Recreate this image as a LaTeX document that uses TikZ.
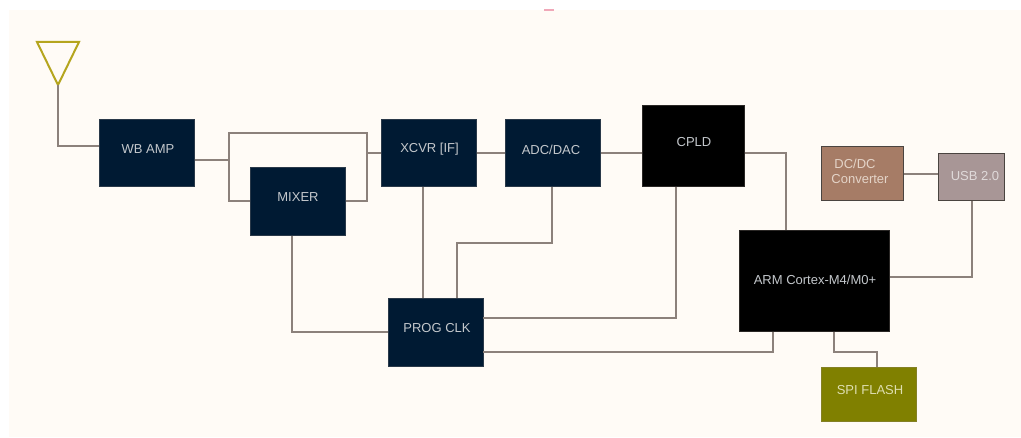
\documentclass[tikz,border=0pt]{standalone}
\usepackage{fontspec}
\setmainfont{Liberation Sans}
\definecolor{bgcream}{HTML}{FFFBF6}
\definecolor{navybox}{HTML}{001A33}
\definecolor{wirecol}{HTML}{8C817B}
\definecolor{olivecol}{HTML}{808000}
\definecolor{antcol}{HTML}{B5A51E}
\definecolor{dccol}{HTML}{A67C66}
\definecolor{usbcol}{HTML}{A89696}
\definecolor{txtcol}{HTML}{C4C8CC}
\definecolor{speck}{HTML}{F0A8B8}
\definecolor{dctext}{HTML}{E4D4C8}
\definecolor{usbtext}{HTML}{E0DADA}
\definecolor{spitext}{HTML}{DEDEB0}
\definecolor{edgedark}{HTML}{4A4440}
\tikzset{
  x=1pt,y=-1pt,
  blockbox/.style={draw=#1!70!wirecol,fill=#1,line width=0.8pt,inner sep=0pt,outer sep=0pt},
  blocktext/.style={text=txtcol,font=\fontsize{13}{15}\selectfont},
  wire/.style={draw=wirecol,line width=2pt,line join=miter},
}
\newcommand{\blk}[6]{% name, x1,y1,x2,y2, colour
  \node[blockbox=#6,minimum width=#4pt-#2pt-0.8pt,minimum height=#5pt-#3pt-0.8pt,anchor=north west] (#1) at (#2+0.4,#3+0.4) {};}
\begin{document}
\begin{tikzpicture}
\useasboundingbox (0,0) rectangle (1021,438);
\fill[white] (0,0) rectangle (1021,438);
\fill[bgcream] (9,10) rectangle (1021,437);
\fill[speck] (544,9.5) rectangle (554,11);
% antenna
\coordinate (anta) at (37,42);
\coordinate (antb) at (79,42);
\coordinate (antc) at (58,85);
\draw[antcol,line width=2pt,line join=miter] (anta) -- (antb) -- (antc) -- cycle;
% blocks
\blk{wb}{98.5}{119}{195}{187}{navybox}
\blk{mix}{250}{167}{346}{236}{navybox}
\blk{xcvr}{381}{119}{477}{187}{navybox}
\blk{adc}{505}{119}{601}{187}{navybox}
\blk{cpld}{642}{105}{745}{187}{black}
\tikzset{blockbox/.append style={draw=edgedark,line width=1pt}}
\blk{dcdc}{821}{146.5}{904}{200.5}{dccol}
\blk{usb}{938}{153.5}{1005}{201}{usbcol}
\tikzset{blockbox/.style={draw=#1!70!wirecol,fill=#1,line width=0.8pt,inner sep=0pt,outer sep=0pt}}
\blk{arm}{739}{230}{890}{332}{black}
\blk{prog}{387.5}{298}{483.5}{367}{navybox}
\blk{spi}{821}{367}{917}{421.5}{olivecol}
% connectors
\draw[wire] (antc) |- (wb.west |- 0,146);
\coordinate (sp1) at (229,160);
\coordinate (sp2) at (367,153);
\draw[wire] (wb.east |- sp1) -- (sp1);
\draw[wire] (sp1) |- (sp2 |- 0,133) -- (sp2);
\draw[wire] (sp1) |- (mix.west |- 0,201);
\draw[wire] (mix.east |- 0,201) -| (sp2);
\draw[wire] (sp2) -- (xcvr.west |- sp2);
\draw[wire] (xcvr.east |- sp2) -- (adc.west |- sp2);
\draw[wire] (adc.east |- sp2) -- (cpld.west |- sp2);
\draw[wire] (cpld.east |- sp2) -| (786,230);
\draw[wire] (dcdc.east |- 0,174) -- (usb.west |- 0,174);
\draw[wire] (972,201) |- (arm.east |- 0,277);
\draw[wire] (422.5,187) -- (422.5,298);
\draw[wire] (552,187) |- (456.5,243) -- (456.5,298);
\draw[wire] (676,187) |- (prog.east |- 0,318);
\draw[wire] (291.5,236) |- (prog.west |- 0,332);
\draw[wire] (prog.east |- 0,352) -| (773,332);
\draw[wire] (834,332) |- (877,352.5) -- (877,367);
% labels
\node[blocktext] (twb) at (148,149) {WB AMP};
\node[blocktext] (tmix) at (298,197.5) {MIXER};
\node[blocktext] (txc) at (429.5,149.5) {XCVR [IF]};
\node[blocktext] (tadc) at (551,149.5) {ADC/DAC};
\node[blocktext] (tcp) at (694,142.5) {CPLD};
\node[blocktext,text=dctext,align=left] (tdc) at (860,171) {\hspace*{3pt}DC/DC\\Converter};
\node[blocktext,text=usbtext] (tus) at (975,176.5) {USB 2.0};
\node[blocktext] (tar) at (815,280) {ARM Cortex-M4/M0+};
\node[blocktext] (tpr) at (437,328) {PROG CLK};
\node[blocktext,text=spitext] (tsp) at (870,390.5) {SPI FLASH};
\end{tikzpicture}
\end{document}
